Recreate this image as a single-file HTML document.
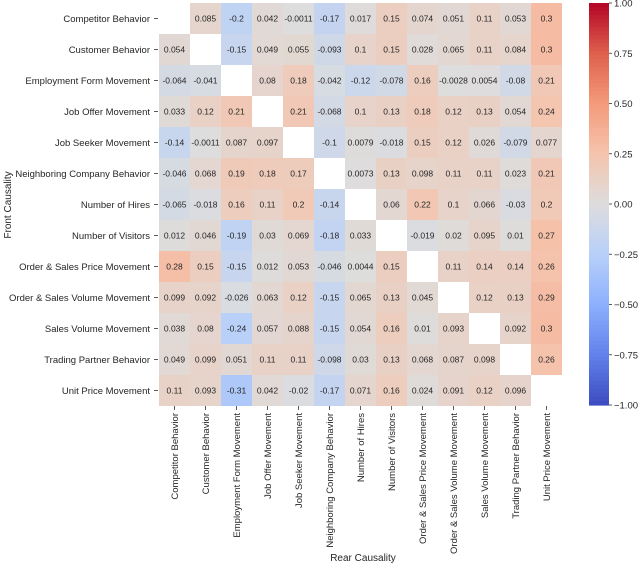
<!DOCTYPE html>
<html><head><meta charset="utf-8"><style>
body{margin:0;background:#fff;font-family:"Liberation Sans",sans-serif;}
</style></head><body>
<svg id="chart" width="640" height="564" xmlns="http://www.w3.org/2000/svg"></svg>
<script>
const labels=["Competitor Behavior","Customer Behavior","Employment Form Movement","Job Offer Movement","Job Seeker Movement","Neighboring Company Behavior","Number of Hires","Number of Visitors","Order & Sales Price Movement","Order & Sales Volume Movement","Sales Volume Movement","Trading Partner Behavior","Unit Price Movement"];
const values=[
[null,0.085,-0.2,0.042,-0.0011,-0.17,0.017,0.15,0.074,0.051,0.11,0.053,0.3],
[0.054,null,-0.15,0.049,0.055,-0.093,0.1,0.15,0.028,0.065,0.11,0.084,0.3],
[-0.064,-0.041,null,0.08,0.18,-0.042,-0.12,-0.078,0.16,-0.0028,0.0054,-0.08,0.21],
[0.033,0.12,0.21,null,0.21,-0.068,0.1,0.13,0.18,0.12,0.13,0.054,0.24],
[-0.14,-0.0011,0.087,0.097,null,-0.1,0.0079,-0.018,0.15,0.12,0.026,-0.079,0.077],
[-0.046,0.068,0.19,0.18,0.17,null,0.0073,0.13,0.098,0.11,0.11,0.023,0.21],
[-0.065,-0.018,0.16,0.11,0.2,-0.14,null,0.06,0.22,0.1,0.066,-0.03,0.2],
[0.012,0.046,-0.19,0.03,0.069,-0.18,0.033,null,-0.019,0.02,0.095,0.01,0.27],
[0.28,0.15,-0.15,0.012,0.053,-0.046,0.0044,0.15,null,0.11,0.14,0.14,0.26],
[0.099,0.092,-0.026,0.063,0.12,-0.15,0.065,0.13,0.045,null,0.12,0.13,0.29],
[0.038,0.08,-0.24,0.057,0.088,-0.15,0.054,0.16,0.01,0.093,null,0.092,0.3],
[0.049,0.099,0.051,0.11,0.11,-0.098,0.03,0.13,0.068,0.087,0.098,null,0.26],
[0.11,0.093,-0.31,0.042,-0.02,-0.17,0.071,0.16,0.024,0.091,0.12,0.096,null]];
const cbTicks=[1,0.75,0.5,0.25,0,-0.25,-0.5,-0.75,-1];
const cbTickLabels=["1.00","0.75","0.50","0.25","0.00","\u22120.25","\u22120.50","\u22120.75","\u22121.00"];

const stops=[[-1,[59,76,192]],[-0.75,[98,130,234]],[-0.5,[141,176,254]],[-0.25,[184,208,249]],[0,[221,221,221]],[0.25,[245,196,173]],[0.5,[244,154,123]],[0.75,[222,96,77]],[1,[180,4,38]]];
function cmap(v){for(let i=0;i<stops.length-1;i++){const[a,ca]=stops[i],[b,cb]=stops[i+1];if(v<=b){const t=(v-a)/(b-a);return`rgb(${ca.map((c,k)=>Math.round(c+(cb[k]-c)*t)).join(',')})`;}}return'rgb(180,4,38)';}
const X0=159,Y0=3,C=31;
const xs=i=>X0+i*C, ys=j=>Y0+j*C;
const CB={x:589,w:20,y0:3,y1:405};
const cbY=v=>CB.y0+(1-v)/2*(CB.y1-CB.y0);
const svg=document.getElementById('chart');
const NS="http://www.w3.org/2000/svg";
function mk(t,a,txt){const e=document.createElementNS(NS,t);for(const k in a)e.setAttribute(k,a[k]);if(txt!==undefined)e.textContent=txt;svg.appendChild(e);return e;}
values.forEach((row,j)=>row.forEach((v,i)=>{
 if(v===null)return;
 const r=mk('rect',{x:xs(i),y:ys(j),width:C,height:C,fill:cmap(v)});
 
 
 const t=mk('text',{x:xs(i)+C/2,y:ys(j)+C/2+3,'font-size':8.5,'text-anchor':'middle',fill:'#262626'},String(v));
 
 
}));
labels.forEach((l,j)=>{
 const t=mk('text',{x:150,y:ys(j)+C/2+3.5,'font-size':9.5,'text-anchor':'end',fill:'#262626'},l);
 
 
 mk('line',{x1:154,x2:158,y1:ys(j)+C/2,y2:ys(j)+C/2,stroke:'#333','stroke-width':0.8});
 const cx=xs(j)+C/2;
 mk('line',{x1:cx,x2:cx,y1:406,y2:410,stroke:'#333','stroke-width':0.8});
 const xt=mk('text',{x:0,y:0,'font-size':9.5,'text-anchor':'end',fill:'#262626',transform:`translate(${cx+3.5},413) rotate(-90)`},l);
 
 
});
const xtTitle=mk('text',{x:363,y:561,'font-size':10,'text-anchor':'middle',fill:'#262626'},'Rear Causality');


const ytTitle=mk('text',{x:0,y:0,'font-size':10,'text-anchor':'middle',fill:'#262626',transform:'translate(11,205) rotate(-90)'},'Front Causality');


const N=100;
for(let k=0;k<N;k++){
 const v=1-2*(k+0.5)/N;
 const r=mk('rect',{x:CB.x,y:CB.y0+k*(CB.y1-CB.y0)/N,width:CB.w,height:(CB.y1-CB.y0)/N+0.6,fill:cmap(v)});
 
 
}
cbTicks.forEach((v,i)=>{
 mk('line',{x1:CB.x+CB.w,x2:CB.x+CB.w+3,y1:cbY(v),y2:cbY(v),stroke:'#333','stroke-width':0.8});
 const t=mk('text',{x:CB.x+CB.w+5,y:cbY(v)+3.5,'font-size':9.5,fill:'#262626'},cbTickLabels[i]);
 
 
});
</script>
</body></html>
